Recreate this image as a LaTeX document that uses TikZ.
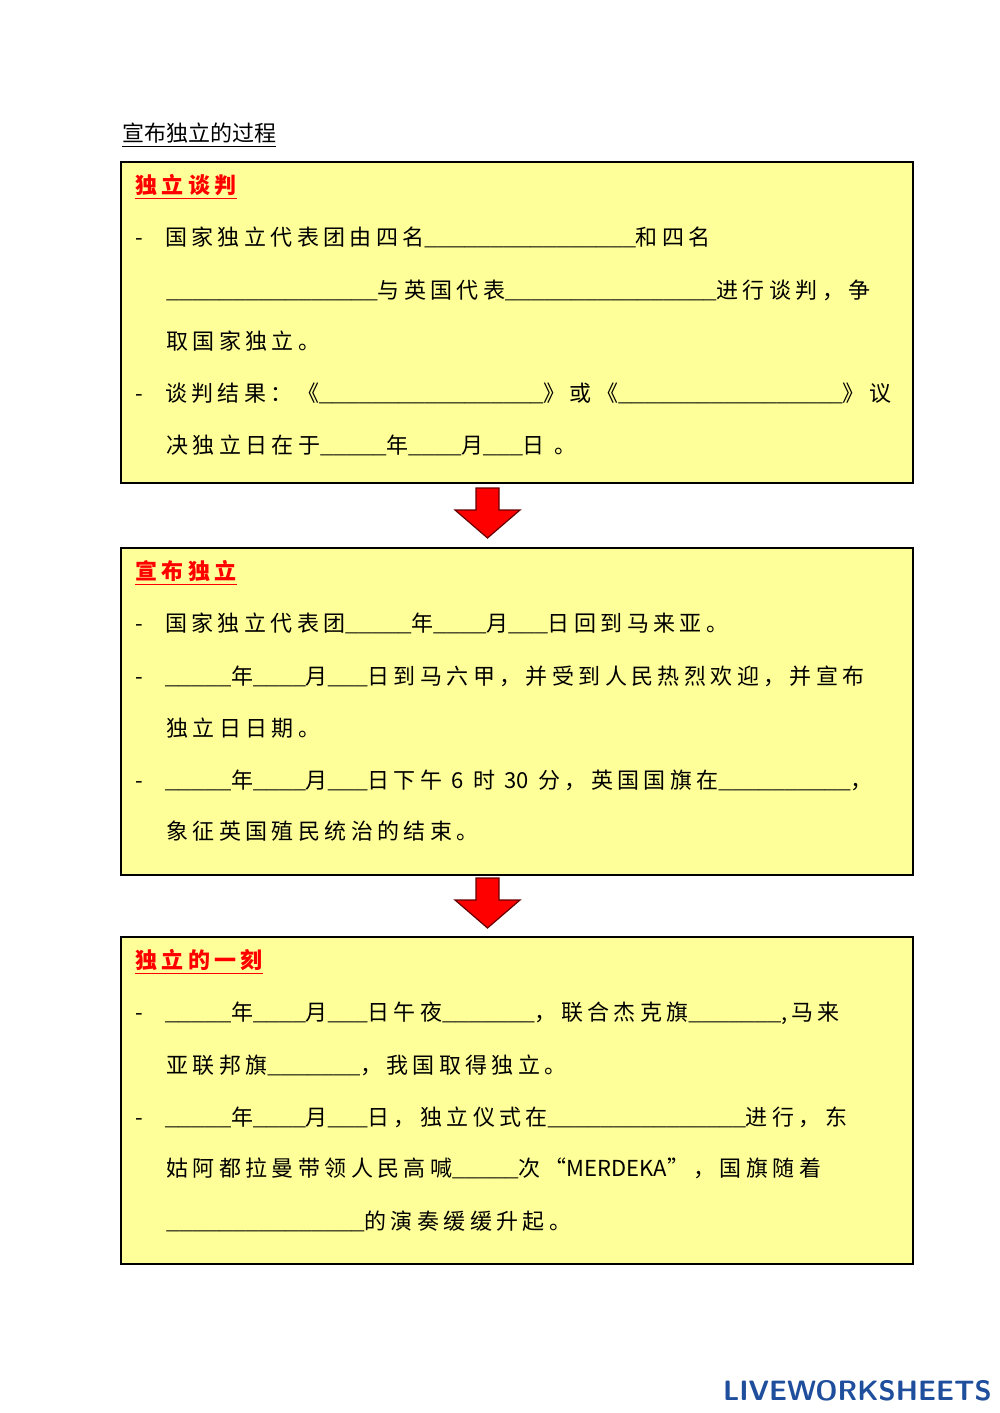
\documentclass[tikz,border=0pt]{standalone}
\usepackage{fontspec}
\newfontfamily\cjk[LetterSpace=20]{Noto Sans CJK SC}
\newfontfamily\cjkn{Noto Sans CJK SC}
\newfontfamily\usf{Liberation Mono}
\newcommand\bl[1]{{\usf\fontsize{11pt}{13pt}\selectfont\foreach\i in {1,...,#1}{\_}}}
\newcommand\lat[1]{{\cjkn\fontsize{11pt}{13pt}\selectfont #1}}
\definecolor{boxy}{HTML}{FFFF99}
\definecolor{logob}{HTML}{1F4E9C}
\begin{document}
\begin{tikzpicture}[x=0.5pt,y=-0.5pt,
  panel/.style={draw=black,line width=0.8pt,fill=boxy},
  txt/.style={anchor=west,inner sep=0pt,font=\cjk\fontsize{11pt}{13pt}\selectfont},
  ttl/.style={txt,text=red,font=\cjk\bfseries\fontsize{11pt}{13pt}\selectfont},
  dn/.style={fill=red,draw=black!60!red,line width=0.6pt}]
\useasboundingbox (0,0) rectangle (1000,1413);
\node[txt,font=\cjkn\fontsize{11pt}{13pt}\selectfont] (h) at (122,135) {\underline{宣布独立的过程}};
\draw[panel] (121,162) rectangle (913,483);
\draw[panel] (121,548) rectangle (913,875);
\draw[panel] (121,937) rectangle (913,1264);
\foreach \t/\b in {488/538,878/928}{
  \draw[dn] (476,\t) -- (499,\t) -- (499,\t+22) -- (520,\t+22) -- (487.5,\b) -- (455,\t+22) -- (476,\t+22) -- cycle;}
% box1
\node[ttl] (t1) at (135,187) {\underline{独立谈判}};
\node[txt] (a1) at (135,237) {-\hspace{11pt}国家独立代表团由四名\bl{16}和四名};
\node[txt] (a2) at (166,290) {\bl{16}与英国代表\bl{16}进行谈判，争};
\node[txt] (a3) at (166,341) {取国家独立。};
\node[txt] (a4) at (135,393) {-\hspace{11pt}谈判结果：《\bl{17}》或《\bl{17}》议};
\node[txt] (a5) at (166,445) {决独立日在于\bl{5}年\bl{4}月\bl{3}日 。};
% box2
\node[ttl] (t2) at (135,573) {\underline{宣布独立}};
\node[txt] (b1) at (135,623) {-\hspace{11pt}国家独立代表团\bl{5}年\bl{4}月\bl{3}日回到马来亚。};
\node[txt] (b2) at (135,676) {-\hspace{11pt}\bl{5}年\bl{4}月\bl{3}日到马六甲，并受到人民热烈欢迎，并宣布};
\node[txt] (b3) at (166,728) {独立日日期。};
\node[txt] (b4) at (135,780) {-\hspace{11pt}\bl{5}年\bl{4}月\bl{3}日下午 \lat{6} 时 \lat{30} 分，英国国旗在\bl{10}，};
\node[txt] (b5) at (166,831) {象征英国殖民统治的结束。};
% box3
\node[ttl] (t3) at (135,962) {\underline{独立的一刻}};
\node[txt] (c1) at (135,1013) {-\hspace{11pt}\bl{5}年\bl{4}月\bl{3}日午夜\bl{7}，联合杰克旗\bl{7},马来};
\node[txt] (c2) at (166,1065) {亚联邦旗\bl{7}，我国取得独立。};
\node[txt] (c3) at (135,1117) {-\hspace{11pt}\bl{5}年\bl{4}月\bl{3}日，独立仪式在\bl{15}进行，东};
\node[txt] (c4) at (166,1168) {姑阿都拉曼带领人民高喊\bl{5}次“\lat{MERDEKA}”，国旗随着};
\node[txt] (c5) at (166,1221) {\bl{15}的演奏缓缓升起。};
\node[anchor=east,inner sep=0pt,text=logob,font=\sffamily\bfseries\fontsize{14pt}{16pt}\selectfont] (logo) at (992,1391) {LIVEWORKSHEETS};
\end{tikzpicture}
\end{document}
